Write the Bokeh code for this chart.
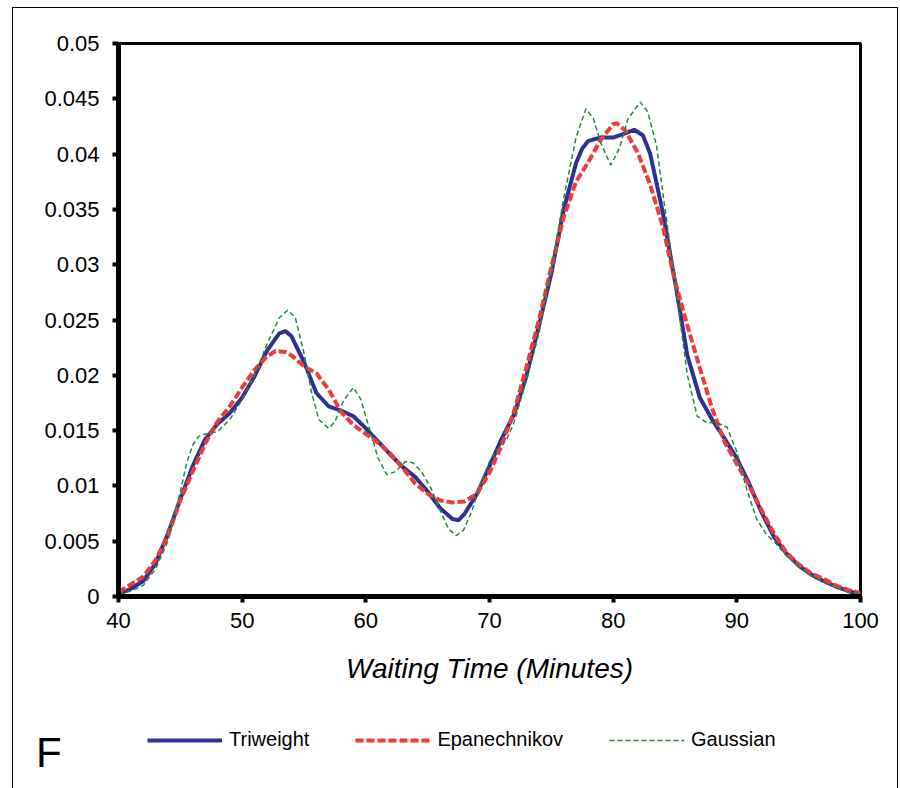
from bokeh.plotting import figure
from bokeh.layouts import column, row
from bokeh.models import Range1d, FixedTicker, Legend, LegendItem, Div
from bokeh.embed import file_html
from bokeh.resources import INLINE

# ---- data ----
tri_x = [40, 41, 42, 43, 44, 45, 46, 47, 48, 49, 50, 51, 52, 53, 53.5, 54, 55, 56, 57, 58, 59, 60,
         61, 62, 63, 64, 65, 66, 67, 67.5, 68, 69, 70, 71, 72, 73, 74, 75, 76, 77, 77.5, 78, 79, 80,
         81, 81.7, 82.4, 83, 84, 85, 86, 87, 88, 89, 90, 91, 92, 93, 94, 95, 96, 97, 98, 99, 100]
tri_y = [0.0002, 0.0007, 0.0014, 0.0030, 0.0057, 0.0088, 0.0118, 0.0142, 0.0156, 0.0166, 0.0180,
         0.0199, 0.0222, 0.0238, 0.0240, 0.0235, 0.0212, 0.0184, 0.0172, 0.0168, 0.0163, 0.0152,
         0.0140, 0.0128, 0.0117, 0.0108, 0.0095, 0.0080, 0.0070, 0.0069, 0.0075, 0.0093, 0.0118,
         0.0143, 0.0165, 0.0200, 0.0245, 0.0292, 0.0350, 0.0392, 0.0405, 0.0412, 0.0415, 0.0415,
         0.0419, 0.0422, 0.0417, 0.0400, 0.0348, 0.0285, 0.0218, 0.0180, 0.0160, 0.0143, 0.0125,
         0.0102, 0.0076, 0.0054, 0.0039, 0.0028, 0.0020, 0.0014, 0.0009, 0.0005, 0.0002]

epa_x = [40, 41, 42, 43, 44, 45, 46, 47, 48, 49, 50, 51, 52, 52.7, 53.5, 54, 55, 56, 57, 58, 59, 60,
         61, 62, 63, 64, 65, 66, 67, 68, 69, 70, 71, 72, 73, 74, 75, 76, 77, 78, 79, 80, 80.3, 81, 82,
         83, 84, 85, 86, 87, 88, 89, 90, 91, 92, 93, 94, 95, 96, 97, 98, 99, 100]
epa_y = [0.0004, 0.0011, 0.0018, 0.0033, 0.0055, 0.0087, 0.0113, 0.0138, 0.0158, 0.0172, 0.0189,
         0.0205, 0.0217, 0.0222, 0.0221, 0.0218, 0.0208, 0.0202, 0.0187, 0.0167, 0.0155, 0.0147,
         0.0139, 0.0129, 0.0116, 0.0102, 0.0093, 0.0087, 0.0085, 0.0086, 0.0093, 0.0112, 0.0137,
         0.0168, 0.0208, 0.0250, 0.0298, 0.0343, 0.0375, 0.0393, 0.0413, 0.0427, 0.0428, 0.0421,
         0.0401, 0.0372, 0.0335, 0.0285, 0.0245, 0.0207, 0.0170, 0.0140, 0.0120, 0.0100, 0.0078,
         0.0057, 0.0040, 0.0029, 0.0021, 0.0016, 0.0010, 0.0006, 0.0003]

gau_x = [40, 41, 42, 43, 44, 45, 45.5, 46, 46.5, 47, 48, 49, 50, 51, 52, 53, 53.7, 54.3, 55, 55.6,
         56.2, 57, 57.5, 58.2, 59, 59.6, 60.2, 61, 61.7, 62.4, 63.2, 63.8, 64.5, 65.3, 66, 66.7,
         67.3, 67.9, 68.6, 69.3, 70, 70.7, 71.4, 72, 73, 74, 75, 76, 77, 77.8, 78.4, 79, 79.8, 80.5,
         81.2, 82.2, 82.8, 83.5, 84.2, 85, 86, 86.8, 87.6, 88.4, 89.2, 90, 90.8, 91.6, 92.4, 93, 94,
         95, 96, 97, 98, 99, 100]
gau_y = [0.0002, 0.0005, 0.0010, 0.0025, 0.0050, 0.0095, 0.0120, 0.0137, 0.0145, 0.0147, 0.0149,
         0.0160, 0.0178, 0.0200, 0.0228, 0.0252, 0.0259, 0.0252, 0.0220, 0.0185, 0.0160, 0.0152,
         0.0158, 0.0177, 0.0189, 0.0178, 0.0155, 0.0125, 0.0110, 0.0113, 0.0122, 0.0121, 0.0113,
         0.0097, 0.0078, 0.0061, 0.0055, 0.0060, 0.0078, 0.0103, 0.0122, 0.0134, 0.0142, 0.0158,
         0.0196, 0.0238, 0.0296, 0.0360, 0.0415, 0.0441, 0.0432, 0.0410, 0.0390, 0.0405, 0.0432,
         0.0447, 0.0438, 0.0408, 0.0350, 0.0285, 0.0200, 0.0163, 0.0157, 0.0157, 0.0153, 0.0131,
         0.0097, 0.0070, 0.0056, 0.0050, 0.0037, 0.0027, 0.0019, 0.0013, 0.0008, 0.0004, 0.0002]

series_names = ["Triweight", "Epanechnikov", "Gaussian"]
series_colors = ["#2E3192", "#F03A3A", "#1E8B3A"]
xticks = [40, 50, 60, 70, 80, 90, 100]
yticks = [0, 0.005, 0.01, 0.015, 0.02, 0.025, 0.03, 0.035, 0.04, 0.045, 0.05]
ytick_labels = ["0", "0.005", "0.01", "0.015", "0.02", "0.025", "0.03", "0.035", "0.04", "0.045", "0.05"]
x_label = "Waiting Time (Minutes)"
panel_letter = "F"

FONT = "Liberation Sans"
W = 884
STYLES = [dict(line_width=4), dict(line_width=4, line_dash="8 3"), dict(line_width=1.5, line_dash="5 3")]
SERIES = [(tri_x, tri_y), (epa_x, epa_y), (gau_x, gau_y)]

# ---------- main chart ----------
p = figure(width=W, height=700, output_backend="svg", toolbar_location=None,
           x_range=Range1d(40, 100), y_range=Range1d(0, 0.05),
           min_border_left=105, min_border_right=37, min_border_top=35, min_border_bottom=112,
           background_fill_color="white", border_fill_color="white")
p.xgrid.visible = False
p.ygrid.visible = False
p.outline_line_color = "black"
p.outline_line_width = 3

for ax in (p.xaxis[0], p.yaxis[0]):
    ax.axis_line_width = 5
    ax.axis_line_color = "black"
    ax.major_tick_line_width = 4
    ax.major_tick_out = 6
    ax.major_tick_in = 0
    ax.minor_tick_line_color = None
    ax.major_label_text_font = FONT
    ax.major_label_text_font_size = "22px"
    ax.major_label_text_color = "black"

p.xaxis.ticker = FixedTicker(ticks=xticks)
p.yaxis.ticker = FixedTicker(ticks=yticks)
p.yaxis.major_label_overrides = {t: l for t, l in zip(yticks, ytick_labels)}
p.yaxis.major_label_standoff = 13
p.xaxis.major_label_standoff = 10
p.xaxis.axis_label = x_label
p.xaxis.axis_label_text_font = FONT
p.xaxis.axis_label_text_font_style = "italic"
p.xaxis.axis_label_text_font_size = "28px"
p.xaxis.axis_label_text_color = "black"
p.xaxis.axis_label_standoff = 22

for (xs, ys), c, s in zip(SERIES, series_colors, STYLES):
    p.line(xs, ys, line_color=c, **s)

# ---------- legend strip ----------
H2 = 80
LEFT = 105
q = figure(width=W - LEFT, height=H2, output_backend="svg", toolbar_location=None,
           x_range=Range1d(0, 1), y_range=Range1d(0, 1),
           x_axis_type=None, y_axis_type=None,
           min_border=0, min_border_left=0, min_border_right=0, min_border_top=0, min_border_bottom=0,
           background_fill_color="white", border_fill_color="white", outline_line_color=None)
q.xgrid.visible = False
q.ygrid.visible = False
# legend renderers carry the series but are hidden in this strip
hidden = [q.line(xs, ys, line_color=c, visible=False, **s)
          for (xs, ys), c, s in zip(SERIES, series_colors, STYLES)]

legend = Legend(items=[LegendItem(label=n, renderers=[r]) for n, r in zip(series_names, hidden)],
                location=(29, 37), orientation="horizontal",
                border_line_color=None, background_fill_alpha=0,
                inactive_fill_alpha=0, inactive_fill_color=None,
                padding=0, margin=0, spacing=46, label_standoff=7,
                glyph_width=75, glyph_height=20, label_height=20,
                label_text_font=FONT, label_text_font_size="20px", label_text_color="black")
q.add_layout(legend)

letter = Div(text=f'<div style="padding:24px 0 0 23px; font-family:\'{FONT}\'; font-size:42px; '
                  f'line-height:42px; color:black;">{panel_letter}</div>',
             width=LEFT, height=H2, margin=0)

strip = row(letter, q, spacing=0, margin=0)

layout = column(p, strip, spacing=0, margin=(7, 0, 0, 12),
                styles={"border-top": "1px solid black", "border-left": "1px solid black",
                        "border-right": "1px solid black"})

open("out.html", "w").write(file_html(layout, INLINE))
